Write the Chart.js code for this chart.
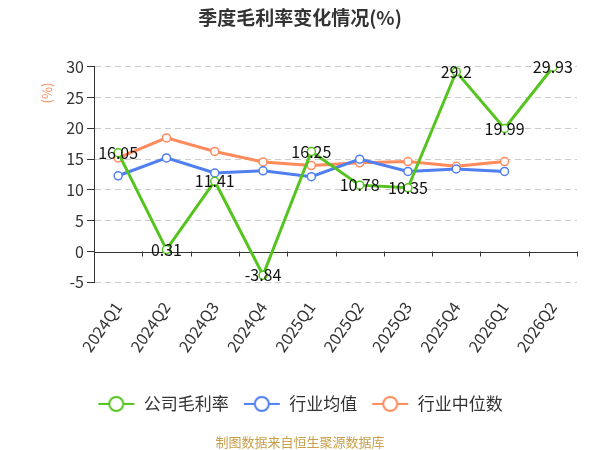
<!DOCTYPE html>
<html>
<head>
<meta charset="utf-8">
<script src="https://cdn.jsdelivr.net/npm/chart.js@4/dist/chart.umd.min.js"></script>
<style>
  html, body { margin: 0; padding: 0; background: #ffffff; }
  #wrap { width: 600px; height: 450px; }
</style>
</head>
<body>
<div id="wrap"><canvas id="marginChart"></canvas></div>
<script>
const quarters = ['2024Q1', '2024Q2', '2024Q3', '2024Q4', '2025Q1', '2025Q2', '2025Q3', '2025Q4', '2026Q1', '2026Q2'];
const companyMargin = [16.05, 0.31, 11.41, -3.84, 16.25, 10.78, 10.35, 29.2, 19.99, 29.93];
const industryMean = [12.3, 15.2, 12.75, 13.1, 12.15, 15.0, 13.0, 13.4, 13.0, null];
const industryMedian = [15.2, 18.45, 16.25, 14.55, 13.95, 14.4, 14.6, 13.85, 14.6, null];
const yTicks = [-5, 0, 5, 10, 15, 20, 25, 30];

const colorGreen  = '#55c41e';
const colorBlue   = '#4f7ff0';
const colorOrange = '#ff8a5c';
const colorText   = '#333333';
const fontFamily  = '"Noto Sans CJK SC", "Noto Sans", sans-serif';

function legendIcon(color) {
  const c = document.createElement('canvas');
  c.width = 38; c.height = 18;
  const ctx = c.getContext('2d');
  ctx.strokeStyle = color;
  ctx.lineWidth = 2;
  ctx.beginPath(); ctx.moveTo(1, 9); ctx.lineTo(37, 9); ctx.stroke();
  ctx.fillStyle = '#ffffff';
  ctx.beginPath(); ctx.arc(19, 9, 7, 0, Math.PI * 2); ctx.fill(); ctx.stroke();
  return c;
}

const extras = {
  id: 'extras',
  beforeDatasetsDraw(chart) {
    const { ctx, scales: { x, y } } = chart;
    const y0 = y.getPixelForValue(0);
    const step = x.width / quarters.length;
    ctx.save();
    ctx.strokeStyle = '#333333';
    ctx.lineWidth = 1;
    ctx.beginPath();
    ctx.moveTo(x.left, Math.round(y0) + 0.5); ctx.lineTo(x.right, Math.round(y0) + 0.5);
    for (let i = 1; i <= quarters.length; i++) {
      const px = Math.round(x.left + step * i) + 0.5;
      ctx.moveTo(px, y0); ctx.lineTo(px, y0 + 5);
    }
    ctx.stroke();
    ctx.fillStyle = colorOrange;
    ctx.font = '13px ' + fontFamily;
    ctx.translate(47, 93);
    ctx.rotate(-Math.PI / 2);
    ctx.textAlign = 'center';
    ctx.textBaseline = 'middle';
    ctx.fillText('(%)', 0, 0);
    ctx.restore();
  },
  afterDatasetsDraw(chart) {
    const { ctx } = chart;
    const meta = chart.getDatasetMeta(0);
    ctx.save();
    ctx.fillStyle = '#111111';
    ctx.font = '16px ' + fontFamily;
    ctx.textAlign = 'center';
    ctx.textBaseline = 'middle';
    meta.data.forEach((pt, i) => {
      ctx.fillText(String(companyMargin[i]), pt.x, pt.y);
    });
    ctx.restore();
  }
};

new Chart(document.getElementById('marginChart'), {
  type: 'line',
  data: {
    labels: quarters,
    datasets: [
      { label: '公司毛利率', data: companyMargin, borderColor: colorGreen, icon: legendIcon(colorGreen) },
      { label: '行业均值', data: industryMean, borderColor: colorBlue, icon: legendIcon(colorBlue) },
      { label: '行业中位数', data: industryMedian, borderColor: colorOrange, icon: legendIcon(colorOrange) }
    ].map(ds => Object.assign(ds, {
      backgroundColor: '#ffffff',
      pointBackgroundColor: '#ffffff',
      pointBorderColor: ds.borderColor,
      borderWidth: 3,
      pointRadius: 4,
      pointBorderWidth: 1.5,
      tension: 0,
      spanGaps: false
    }))
  },
  options: {
    responsive: true,
    maintainAspectRatio: false,
    animation: false,
    layout: { padding: { left: 23, right: 23, top: 0, bottom: 0 } },
    plugins: {
      title: {
        display: true,
        text: '季度毛利率变化情况(%)',
        color: colorText,
        font: { family: fontFamily, size: 19, weight: 'bold' },
        padding: { top: 6, bottom: 38 }
      },
      subtitle: {
        display: true,
        position: 'bottom',
        text: '制图数据来自恒生聚源数据库',
        color: '#c9a04a',
        font: { family: fontFamily, size: 13 },
        padding: { top: 12, bottom: 0 }
      },
      legend: {
        position: 'bottom',
        labels: {
          usePointStyle: true,
          pointStyleWidth: 38,
          boxHeight: 18,
          color: colorText,
          font: { family: fontFamily, size: 17 },
          padding: 14,
          generateLabels(chart) {
            return chart.data.datasets.map((ds, i) => ({
              text: ds.label,
              pointStyle: ds.icon,
              fontColor: colorText,
              strokeStyle: ds.borderColor,
              fillStyle: '#ffffff',
              lineWidth: 0,
              datasetIndex: i,
              hidden: false
            }));
          }
        }
      },
      tooltip: { enabled: false }
    },
    scales: {
      x: {
        offset: true,
        grid: { display: false },
        border: { display: false },
        afterFit(scale) { scale.height += 18; },
        ticks: {
          color: colorText,
          font: { family: fontFamily, size: 16 },
          minRotation: 55,
          maxRotation: 55,
          padding: 8
        }
      },
      y: {
        min: -5,
        max: 30,
        afterBuildTicks(scale) { scale.ticks = yTicks.map(v => ({ value: v })); },
        afterFit(scale) { scale.width = 71; },
        grid: {
          color: ctx => (ctx.tick && ctx.tick.value === 0 ? 'rgba(0,0,0,0)' : '#cccccc'),
          tickColor: '#333333',
          tickLength: 7,
          drawTicks: true
        },
        border: { display: true, color: '#333333', width: 1, dash: [6, 4] },
        ticks: {
          color: colorText,
          font: { family: fontFamily, size: 16 },
          padding: 3
        }
      }
    }
  },
  plugins: [extras]
});
</script>
</body>
</html>
